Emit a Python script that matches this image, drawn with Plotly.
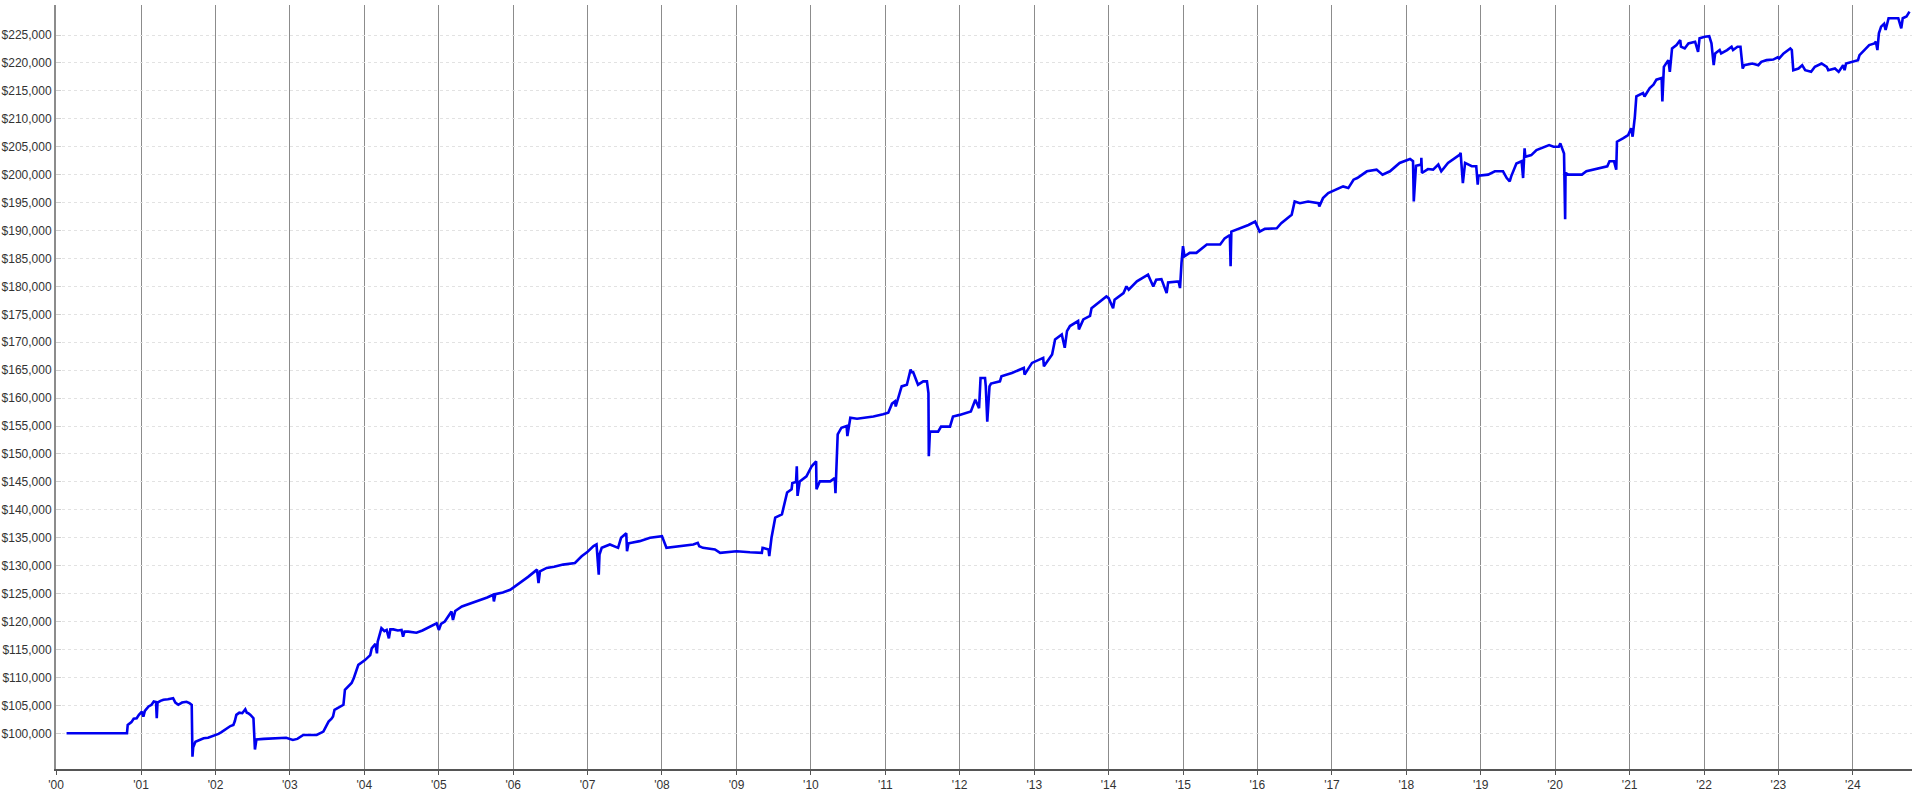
import plotly.graph_objects as go
import pandas as pd
import numpy as np

years = [
    2000.00, 2000.81, 2000.82, 2000.87, 2000.90, 2000.94, 2000.97, 2001.01, 2001.03, 2001.05,
    2001.10, 2001.14, 2001.17, 2001.20, 2001.21, 2001.22, 2001.26, 2001.30, 2001.36, 2001.43,
    2001.46, 2001.50, 2001.55, 2001.61, 2001.65, 2001.68, 2001.69, 2001.70, 2001.73, 2001.78,
    2001.84, 2001.90, 2001.97, 2002.04, 2002.08, 2002.12, 2002.15, 2002.20, 2002.24, 2002.26,
    2002.28, 2002.32, 2002.36, 2002.40, 2002.42, 2002.44, 2002.47, 2002.51, 2002.53, 2002.55,
    2002.65, 2002.75, 2002.87, 2002.95, 2003.04, 2003.10, 2003.18, 2003.36, 2003.45, 2003.52,
    2003.56, 2003.58, 2003.60, 2003.66, 2003.72, 2003.74, 2003.83, 2003.86, 2003.92, 2004.01,
    2004.08, 2004.10, 2004.15, 2004.17, 2004.18, 2004.23, 2004.27, 2004.30, 2004.33, 2004.35,
    2004.39, 2004.45, 2004.50, 2004.52, 2004.54, 2004.59, 2004.70, 2004.78, 2004.84, 2004.92,
    2004.97, 2005.00, 2005.03, 2005.08, 2005.15, 2005.17, 2005.19, 2005.22, 2005.31, 2005.42,
    2005.55, 2005.65, 2005.73, 2005.74, 2005.76, 2005.86, 2005.96, 2006.09, 2006.20, 2006.32,
    2006.34, 2006.36, 2006.45, 2006.55, 2006.67, 2006.83, 2006.92, 2007.00, 2007.08, 2007.12,
    2007.15, 2007.16, 2007.19, 2007.30, 2007.41, 2007.45, 2007.52, 2007.53, 2007.55, 2007.59,
    2007.70, 2007.84, 2007.92, 2008.00, 2008.06, 2008.24, 2008.42, 2008.48, 2008.50, 2008.55,
    2008.71, 2008.78, 2009.00, 2009.18, 2009.34, 2009.35, 2009.43, 2009.44, 2009.47, 2009.52,
    2009.61, 2009.68, 2009.74, 2009.75, 2009.80, 2009.81, 2009.82, 2009.85, 2009.94, 2010.01,
    2010.07, 2010.075, 2010.12, 2010.26, 2010.32, 2010.33, 2010.35, 2010.36, 2010.41, 2010.48,
    2010.49, 2010.53, 2010.62, 2010.84, 2010.97, 2011.04, 2011.09, 2011.13, 2011.14, 2011.22,
    2011.29, 2011.34, 2011.36, 2011.37, 2011.44, 2011.51, 2011.56, 2011.58, 2011.585, 2011.60,
    2011.71, 2011.75, 2011.87, 2011.91, 2012.00, 2012.15, 2012.21, 2012.26, 2012.28, 2012.34,
    2012.35, 2012.37, 2012.40, 2012.42, 2012.54, 2012.56, 2012.70, 2012.86, 2012.87, 2012.97,
    2013.12, 2013.13, 2013.24, 2013.28, 2013.37, 2013.41, 2013.44, 2013.48, 2013.59, 2013.60,
    2013.66, 2013.75, 2013.77, 2013.88, 2013.97, 2014.00, 2014.06, 2014.08, 2014.20, 2014.24,
    2014.27, 2014.38, 2014.53, 2014.56, 2014.60, 2014.64, 2014.71, 2014.78, 2014.80, 2014.94,
    2014.96, 2014.98, 2015.00, 2015.02, 2015.09, 2015.18, 2015.32, 2015.50, 2015.56, 2015.63,
    2015.64, 2015.65, 2015.77, 2015.88, 2015.97, 2016.03, 2016.10, 2016.26, 2016.32, 2016.41,
    2016.46, 2016.50, 2016.57, 2016.68, 2016.82, 2016.83, 2016.88, 2016.95, 2017.06, 2017.15,
    2017.22, 2017.29, 2017.34, 2017.47, 2017.60, 2017.68, 2017.78, 2017.91, 2018.05, 2018.09,
    2018.10, 2018.13, 2018.20, 2018.202, 2018.21, 2018.29, 2018.36, 2018.43, 2018.47, 2018.56,
    2018.72, 2018.73, 2018.76, 2018.79, 2018.88, 2018.94, 2018.96, 2018.97, 2019.10, 2019.19,
    2019.30, 2019.35, 2019.39, 2019.41, 2019.48, 2019.55, 2019.57, 2019.59, 2019.60, 2019.68,
    2019.75, 2019.81, 2019.92, 2019.98, 2020.05, 2020.07, 2020.09, 2020.12, 2020.135, 2020.14,
    2020.18, 2020.36, 2020.42, 2020.53, 2020.64, 2020.70, 2020.73, 2020.79, 2020.82, 2020.83,
    2020.91, 2020.98, 2021.02, 2021.04, 2021.07, 2021.09, 2021.18, 2021.20, 2021.27, 2021.32,
    2021.36, 2021.43, 2021.44, 2021.46, 2021.52, 2021.54, 2021.57, 2021.63, 2021.68, 2021.69,
    2021.74, 2021.79, 2021.88, 2021.92, 2021.94, 2022.01, 2022.07, 2022.10, 2022.13, 2022.15,
    2022.21, 2022.23, 2022.31, 2022.37, 2022.39, 2022.45, 2022.49, 2022.52, 2022.54, 2022.65,
    2022.73, 2022.77, 2022.84, 2022.93, 2022.99, 2023.01, 2023.07, 2023.16, 2023.18, 2023.20,
    2023.27, 2023.32, 2023.36, 2023.44, 2023.49, 2023.58, 2023.65, 2023.67, 2023.76, 2023.81,
    2023.87, 2023.89, 2023.91, 2024.00, 2024.07, 2024.09, 2024.16, 2024.22, 2024.29, 2024.31,
    2024.33, 2024.35, 2024.38, 2024.42, 2024.44, 2024.48, 2024.55, 2024.61, 2024.65, 2024.67,
    2024.72, 2024.76,
]

values = [
    100000, 100000, 101500, 102000, 102600, 102700, 103300, 103900, 103000, 104000,
    104800, 105100, 105700, 105600, 102700, 105500, 105800, 106000, 106100, 106300,
    105500, 105100, 105500, 105650, 105400, 105100, 95800, 97500, 98500, 98800,
    99100, 99200, 99500, 99900, 100200, 100600, 100900, 101300, 101500, 102200,
    103300, 103700, 103600, 104300, 103700, 103600, 103300, 102700, 97100, 98900,
    99000, 99100, 99100, 99200, 98800, 99000, 99700, 99700, 100300, 102100,
    102600, 103000, 104200, 104600, 105100, 107800, 109000, 109900, 112250, 113100,
    114000, 115200, 116000, 114300, 116400, 118800, 118300, 118500, 117000, 118600,
    118600, 118400, 118500, 117300, 118200, 118200, 118000, 118400, 118800, 119300,
    119700, 118500, 119600, 120000, 121500, 121800, 120300, 121900, 122700, 123200,
    123900, 124300, 124800, 123600, 124900, 125200, 125700, 126900, 128000, 129300,
    126900, 129000, 129600, 129800, 130200, 130500, 131700, 132500, 133500, 133800,
    128400, 132000, 133200, 133800, 133200, 135000, 135800, 132600, 134000, 134100,
    134400, 135000, 135100, 135300, 133200, 133500, 133800, 134100, 133500, 133200,
    132900, 132300, 132600, 132400, 132300, 133200, 132900, 131700, 135000, 138600,
    139200, 143100, 143700, 144800, 145000, 147800, 142500, 145100, 146000, 147800,
    148700, 143700, 145100, 145100, 145700, 143000, 150200, 153500, 154700, 155000,
    153200, 156500, 156300, 156700, 157100, 157400, 159000, 159400, 158500, 162100,
    162400, 165100, 164500, 164800, 162400, 163000, 163000, 160900, 149600, 154000,
    154000, 154900, 154900, 156700, 157000, 157600, 159700, 158200, 163600, 163600,
    162100, 155800, 162100, 162600, 163000, 163900, 164500, 165400, 164200, 166300,
    167200, 165700, 167800, 170500, 171400, 169000, 172000, 172900, 173800, 172300,
    174100, 174700, 176100, 177300, 178200, 177900, 176100, 177600, 178800, 180000,
    179400, 180900, 182100, 181200, 180000, 181200, 181300, 178800, 180700, 180900,
    179700, 184200, 187200, 185400, 186000, 186000, 187500, 187500, 188600, 189200,
    183600, 189800, 190400, 191000, 191600, 189800, 190300, 190400, 191300, 192200,
    192800, 195200, 194900, 195200, 194900, 194300, 195800, 196700, 197300, 197900,
    197600, 199100, 199400, 200600, 200900, 200000, 200600, 202100, 202800, 202400,
    195200, 201600, 201800, 203000, 200300, 201000, 200900, 201800, 200600, 202100,
    203600, 203900, 198500, 202100, 201500, 201500, 198200, 199800, 200000, 200600,
    200600, 199400, 198800, 199700, 202000, 202400, 199400, 204700, 203200, 203500,
    204400, 204700, 205300, 205000, 205000, 205600, 205000, 203800, 192000, 200300,
    200000, 200000, 200600, 200900, 201200, 201500, 202400, 202400, 200900, 205900,
    206500, 207100, 208300, 206800, 210400, 214000, 214600, 214000, 215500, 216100,
    217000, 217300, 213100, 219300, 220500, 218400, 222600, 223200, 224100, 222900,
    222600, 223500, 223800, 222000, 224400, 224700, 224800, 223500, 219600, 221700,
    222300, 221700, 222300, 222900, 222300, 222900, 222900, 219000, 219600, 219900,
    219600, 220200, 220500, 220600, 221000, 220800, 221700, 222600, 222300, 218700,
    219000, 219600, 218700, 218400, 219300, 219900, 219300, 218700, 219000, 218400,
    219600, 218700, 219900, 220200, 220500, 221400, 222300, 223200, 223500, 223800,
    222300, 225300, 226500, 227000, 225900, 228000, 228000, 228000, 226200, 228000,
    228300, 229200,
]

tick_years = list(range(2001, 2025))
y_ticks = list(range(100000, 230000, 5000))
y_ticktext = [f"${v:,}" for v in y_ticks]


def to_date(y):
    yr = int(np.floor(y))
    frac = y - yr
    start = pd.Timestamp(year=yr, month=1, day=1)
    end = pd.Timestamp(year=yr + 1, month=1, day=1)
    return start + (end - start) * frac


dates = [to_date(y) for y in years]
x_start = to_date(1999.858)
x_end = to_date(2024.794)

tickvals = [x_start] + [pd.Timestamp(year=y, month=1, day=1) for y in tick_years]
ticktext = ["'00"] + [f"'{y % 100:02d}" for y in tick_years]

fig = go.Figure()
fig.add_trace(go.Scatter(
    x=dates, y=values, mode="lines",
    line=dict(color="#0000f0", width=2.6),
    hoverinfo="skip", showlegend=False,
))

font = dict(family="Liberation Sans, Arial, sans-serif", size=12, color="#333333")

fig.update_layout(
    width=1912, height=798,
    margin=dict(l=56, r=0, t=5, b=29, autoexpand=False),
    paper_bgcolor="white", plot_bgcolor="white",
    font=font,
    showlegend=False,
    xaxis=dict(
        type="date",
        range=[x_start, x_end],
        tickmode="array", tickvals=tickvals, ticktext=ticktext,
        showgrid=True, gridcolor="#8c8c8c", gridwidth=1,
        showline=True, linecolor="#555555", linewidth=1.5,
        ticks="outside", ticklen=4, tickcolor="#555555",
        zeroline=False, tickfont=font, automargin=False,
    ),
    yaxis=dict(
        range=[93610, 230370],
        tickmode="array", tickvals=y_ticks, ticktext=y_ticktext,
        showgrid=True, gridcolor="#e2e2e2", gridwidth=1, griddash="dot",
        showline=True, linecolor="#8c8c8c", linewidth=2,
        ticks="inside", ticklen=5, tickcolor="#cfcfcf",
        zeroline=False, tickfont=font, automargin=False,
    ),
)

fig.write_html(
    "out.html",
    config={"displayModeBar": False, "staticPlot": True},
    post_script="document.body.style.margin='0';document.body.style.overflow='hidden';",
)
